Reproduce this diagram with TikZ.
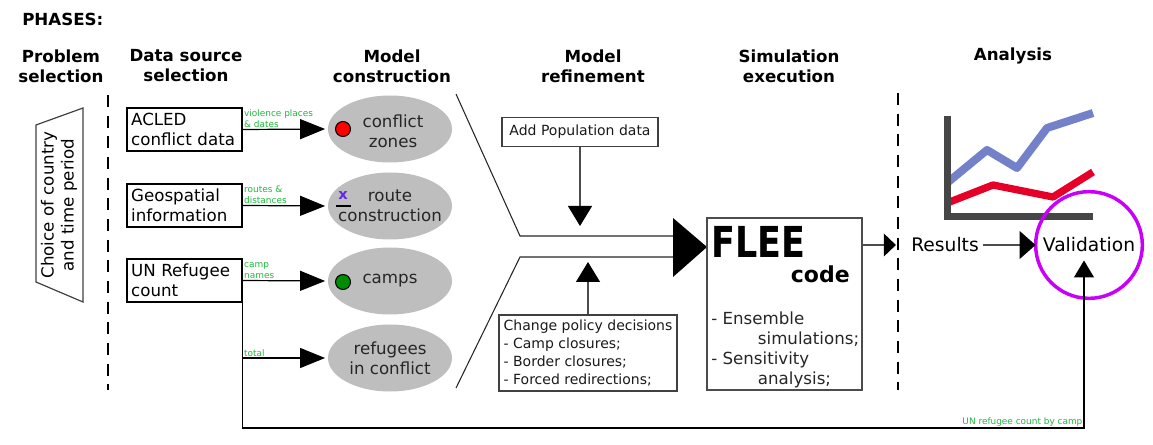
\documentclass[tikz,border=0pt]{standalone}
\usepackage{fontspec}
\setmainfont{DejaVu Sans}
\newfontfamily\fleefont[FakeStretch=0.82]{DejaVu Sans}
\usetikzlibrary{arrows.meta,shapes}
\definecolor{ellgray}{RGB}{190,190,190}
\definecolor{lblgreen}{RGB}{30,185,60}
\definecolor{valpurple}{RGB}{200,0,250}
\definecolor{xpurple}{RGB}{100,40,230}
\definecolor{plotblue}{RGB}{115,130,200}
\definecolor{plotred}{RGB}{230,0,40}
\definecolor{axisgray}{RGB}{70,70,70}
\tikzset{
  head/.style={font=\bfseries\fontsize{12.5}{15}\selectfont, align=center},
  databox/.style={draw, line width=0.9pt, text width=80pt, inner xsep=3.1pt,
    minimum height=32.25pt, align=left, font=\fontsize{12.5}{15}\selectfont},
  modelell/.style={ellipse, fill=ellgray, minimum width=93pt, minimum height=50.25pt, inner sep=0pt},
  modeltxt/.style={align=center, font=\fontsize{12.5}{15}\selectfont, text=black!85},
  datalbl/.style={font=\fontsize{6.7}{8.2}\selectfont, text=lblgreen, align=left, inner sep=1pt},
  smallbox/.style={draw=black!75, line width=0.9pt, font=\fontsize{10.5}{13.5}\selectfont, text=black!90},
  feed/.style={-{Triangle[length=18.75pt,width=15pt]}, line width=0.9pt, shorten >=2pt},
  refine/.style={-{Triangle[length=15pt,width=18pt,black]}, line width=0.9pt, draw=black!70},
  phaseline/.style={dashed, dash pattern=on 9pt off 6.5pt, line width=1.1pt},
  dot/.style={draw, circle, line width=0.8pt, minimum size=11.25pt, inner sep=0pt}
}
\begin{document}
\begin{tikzpicture}[x=0.75pt,y=-0.75pt]
  \useasboundingbox (0,0) rectangle (1153,445);
  %insert phase headings
  \node[head, anchor=west, inner sep=0pt] (phases) at (22,19) {PHASES:};
  \node[head] (hprob) at (61,66) {Problem\\selection};
  \node[head] (hdata) at (186,66) {Data source\\selection};
  \node[head] (hcons) at (392,66) {Model\\construction};
  \node[head] (hrefi) at (593,66) {Model\\refinement};
  \node[head] (hsimu) at (789,66) {Simulation\\execution};
  \node[head] (hanal) at (1013,56) {Analysis};
  %draw phase borders
  \draw[phaseline] (108,95) -- (108,390);
  \draw[phaseline] (898,93) -- (898,390);
  %draw problem selection
  \draw[line width=0.9pt, draw=black!75] (36,125) -- (83,108) -- (83,302) -- (36,282) -- cycle;
  \node[rotate=90, align=center, font=\fontsize{12.5}{15}\selectfont] (choice) at (59,205)
    {Choice of country\\and time period};
  %insert data sources
  \node[databox] (acled) at (184.5,129.5) {ACLED\\conflict data};
  \node[databox] (geo) at (184.5,205.5) {Geospatial\\information};
  \node[databox] (unref) at (184.5,280.5) {UN Refugee\\count};
  %draw model ellipses
  \node[modelell] (conf) at (390,129) {};
  \node[modelell] (route) at (390,206) {};
  \node[modelell] (camps) at (390,281) {};
  \node[modelell] (refin) at (390,358) {};
  \node[modeltxt] (conftxt) at (393,131) {conflict\\zones};
  \node[modeltxt] (routetxt) at (390,206) {route\\construction};
  \node[modeltxt] (campstxt) at (390,281) {camps};
  \node[modeltxt] (refintxt) at (390,358) {refugees\\in conflict};
  %insert markers
  \node[dot, fill=red] (rdot) at (343,129) {};
  \node[dot, fill=green!55!black] (gdot) at (343,282) {};
  \node[text=xpurple, font=\bfseries\fontsize{11}{11}\selectfont, inner sep=0pt] (xmark) at (343,195) {x};
  \draw[line width=0.9pt] (336,206) -- (351,206);
  %draw data arrows
  \draw[feed] (acled.east) -- (conf.west);
  \draw[feed] (geo.east) -- (route.west);
  \draw[feed] (unref.east) -- (camps.west);
  \coordinate (untap) at (unref.south east |- refin.west);
  \draw[feed] (untap) -- (refin.west);
  \node[datalbl, anchor=south west] (lbl1) at (acled.east) {violence places\\\& dates};
  \node[datalbl, anchor=south west] (lbl2) at (geo.east) {routes \&\\distances};
  \node[datalbl, anchor=south west] (lbl3) at (unref.east) {camp\\names};
  \node[datalbl, anchor=south west] (lbl4) at (untap) {total};
  %draw funnel into simulation
  \coordinate (ftop) at (456,94);
  \coordinate (fbot) at (456,388);
  \coordinate (fhead) at (673,247);
  \draw[line width=0.8pt, draw=black!85] (ftop) -- (520,236) -- (fhead |- 0,236);
  \draw[line width=0.8pt, draw=black!85] (fbot) -- (520,257) -- (fhead |- 0,257);
  \fill (673,218) -- (707,247) -- (673,277) -- cycle;
  %insert refinement boxes
  \node[smallbox, inner xsep=5.6pt, minimum height=21.75pt] (addpop) at (580,132) {Add Population data};
  \node[smallbox, align=left, inner xsep=3.5pt, minimum height=57pt] (policy) at (588,353)
    {Change policy decisions\\- Camp closures;\\- Border closures;\\- Forced redirections;};
  \coordinate (poptip) at (addpop.south |- 0,226);
  \coordinate (poltip) at (policy.north |- 0,262);
  \draw[refine] (addpop.south) -- (poptip);
  \draw[refine] (policy.north) -- (poltip);
  %draw simulation box
  \node[draw=black!70, line width=0.8pt, minimum width=116.25pt, minimum height=129pt] (flee) at (784.5,304) {};
  \node[anchor=base west, inner sep=0pt, font=\fleefont\bfseries\fontsize{32}{32}\selectfont] (fleename) at (711,258) {FLEE};
  \node[anchor=base east, inner sep=0pt, font=\bfseries\fontsize{16.5}{16.5}\selectfont] (fleecode) at (850,283) {code};
  \node[anchor=north west, inner sep=0pt, align=left, font=\fontsize{12.5}{15}\selectfont, text=black!85] (fleelist) at (711,312)
    {- Ensemble\\\hspace*{35pt}simulations;\\- Sensitivity\\\hspace*{35pt}analysis;};
  %draw results plot
  \draw[plotblue, line width=6pt, line join=round] (947,183) -- (987,150) -- (1017,168) -- (1047,128) -- (1093,113);
  \draw[plotred, line width=5.5pt, line join=round] (947,203) -- (993,185) -- (1053,197) -- (1093,172);
  \draw[axisgray, line width=5.25pt] (947,116) -- (947,217) -- (1093,217);
  %insert analysis labels
  \node[font=\fontsize{14}{16}\selectfont] (res) at (945,245) {Results};
  \node[font=\fontsize{14}{16}\selectfont, inner ysep=6pt] (valid) at (1089,245) {Validation};
  \draw[valpurple, line width=2.6pt] (valid.center) circle[radius=40pt];
  \draw[-{Triangle[length=9pt,width=17pt,black]}, line width=0.8pt, draw=black!70, shorten >=8pt] (flee.east |- res.west) -- (res.west);
  \draw[-{Triangle[length=12pt,width=21pt,black]}, line width=0.8pt, draw=black!70, shorten >=2pt] (res.east) -- (valid.west);
  %draw validation feedback
  \coordinate (lowleft) at (unref.south east |- 0,428);
  \coordinate (lowright) at (1084,428);
  \draw[-{Triangle[length=12.75pt,width=15pt]}, line width=0.9pt] (unref.south east) -- (lowleft) -- (lowright) -- (lowright |- valid.south);
  \node[datalbl, anchor=south east] (lbl5) at (lowright) {UN refugee count by camp};
\end{tikzpicture}
\end{document}
